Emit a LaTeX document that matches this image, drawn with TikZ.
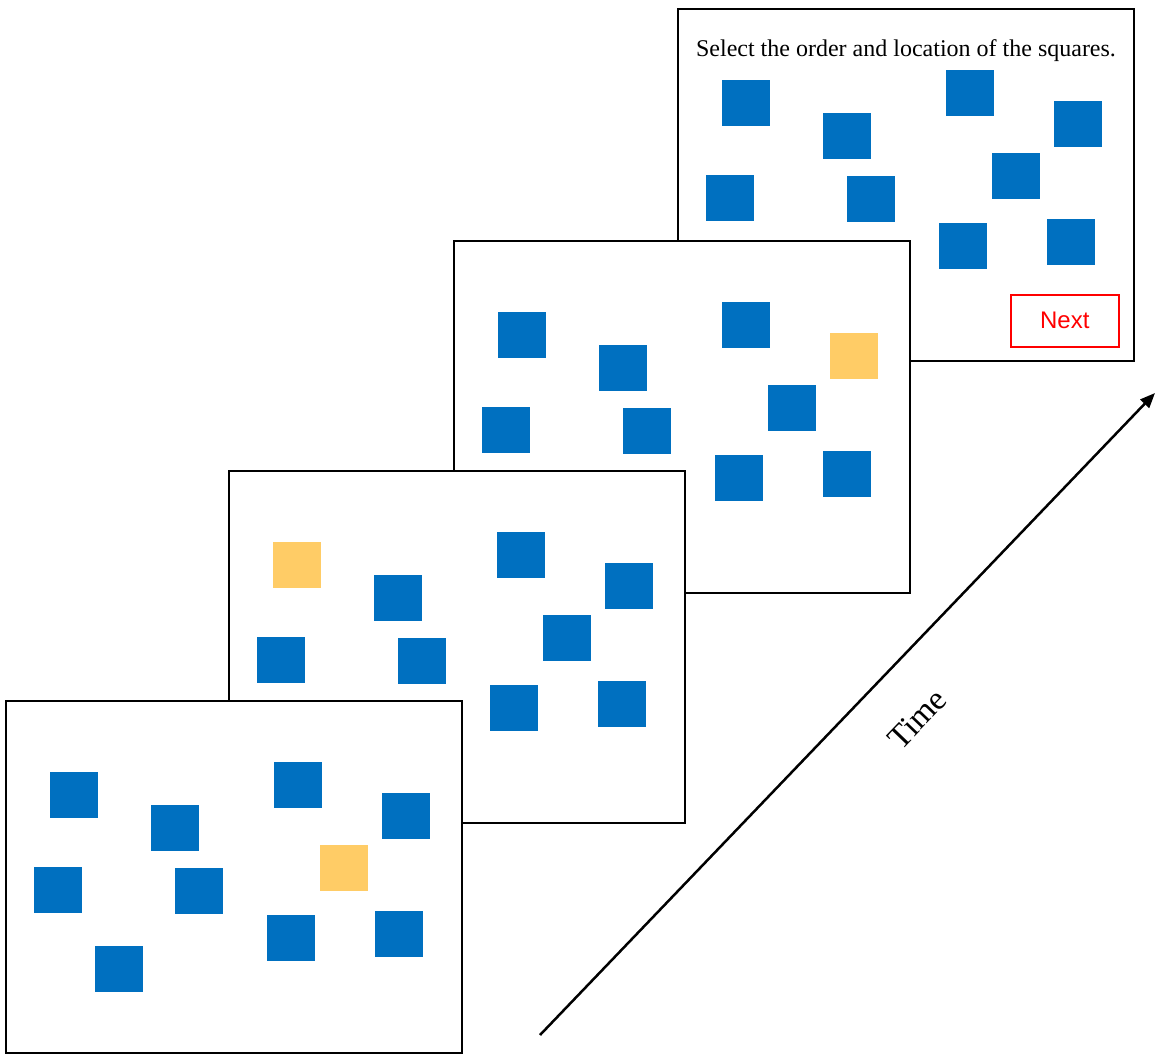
\documentclass[tikz,border=0pt]{standalone}
\usepackage{fontspec}
\setmainfont{Liberation Serif}
\newfontfamily\buttonfont{Liberation Sans}
\usetikzlibrary{arrows.meta}
\definecolor{sqblue}{HTML}{0070C0}
\definecolor{sqyellow}{HTML}{FFCC66}
\tikzset{
  screen/.style={draw=black, line width=2pt, fill=white, minimum width=456pt,
    minimum height=352pt, anchor=north west, inner sep=0pt, outer sep=0pt},
  sq/.style={minimum width=48pt, minimum height=46pt, anchor=north west,
    inner sep=0pt, outer sep=0pt, draw=none},
  button/.style={draw=red, line width=1.5pt, minimum width=108pt, minimum height=52pt,
    anchor=north west, inner sep=0pt, text=red, font=\buttonfont\fontsize{24}{28}\selectfont},
  prompt/.style={font=\fontsize{24}{28}\selectfont, inner sep=0pt},
  timeaxis/.style={line width=2.5pt, -{Triangle[length=15pt,width=12pt]}},
}
% One screen: name, top-left x, top-left y, index of the highlighted square (0 = none)
\newcommand\drawscreen[4]{%
  \node[screen] (#1) at (#2,#3) {};
  \foreach \i/\dx/\dy in {1/44/71, 2/145/104, 3/268/61, 4/376/92, 5/314/144,
                          6/28/166, 7/169/167, 8/89/245, 9/261/214, 10/369/210} {
    \ifnum\i=#4\relax\def\sqcol{sqyellow}\else\def\sqcol{sqblue}\fi
    \node[sq, fill=\sqcol] (#1-\i) at ([shift={(\dx,\dy)}]#1.north west) {};
  }%
}
\begin{document}
\begin{tikzpicture}[x=1pt, y=-1pt]
  \useasboundingbox (0,0) rectangle (1156,1055);
  % screens from last (back) to first (front)
  \drawscreen{s4}{678}{9}{0}
  \node[prompt] (question) at ([shift={(228,42)}]s4.north west)
    {Select the order and location of the squares.};
  \node[button] (next) at ([shift={(332,285)}]s4.north west) {Next};
  \drawscreen{s3}{454}{241}{4}
  \drawscreen{s2}{229}{471}{1}
  \drawscreen{s1}{6}{701}{5}
  % time axis
  \coordinate (tstart) at (540,1035);
  \coordinate (tend) at (1155,393);
  \draw[timeaxis] (tstart) -- (tend);
  \node[rotate=46.2, font=\fontsize{33}{38}\selectfont, inner sep=0pt] (timelabel) at (917,719) {Time};
\end{tikzpicture}
\end{document}
